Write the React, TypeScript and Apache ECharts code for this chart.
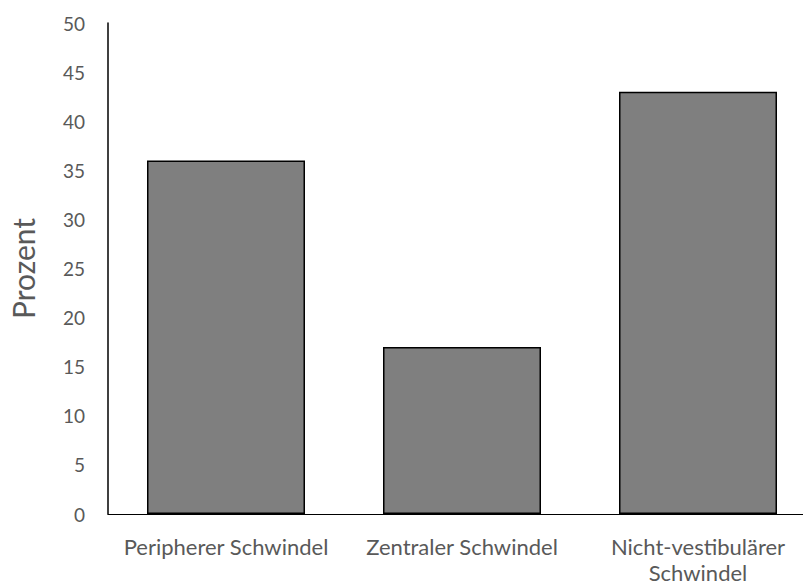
import React, { useEffect, useRef } from "react";
import * as echarts from "echarts";

const categories = ["Peripherer Schwindel", "Zentraler Schwindel", "Nicht-vestibulärer\nSchwindel"];
const values = [36, 17, 43];
const yMin = 0;
const yMax = 50;
const yStep = 5;

export default function App() {
  const ref = useRef<HTMLDivElement>(null);
  useEffect(() => {
    if (!ref.current) return;
    const chart = echarts.init(ref.current, undefined, { renderer: "svg" });
    const font = "Lato, 'Open Sans', sans-serif";
    chart.setOption({
      animation: false,
      backgroundColor: "#ffffff",
      grid: { left: 107, top: 23, right: 0, bottom: 69, containLabel: false },
      xAxis: {
        type: "category",
        data: categories,
        axisLine: { show: true, lineStyle: { color: "#000000", width: 1 } },
        axisTick: { show: false },
        axisLabel: { color: "#595959", fontSize: 22, fontFamily: font, margin: 19, lineHeight: 26, interval: 0 },
      },
      yAxis: {
        type: "value",
        min: yMin,
        max: yMax,
        interval: yStep,
        name: "Prozent",
        nameLocation: "middle",
        nameGap: 70,
        nameTextStyle: { color: "#595959", fontSize: 30, fontFamily: font },
        axisLine: { show: true, lineStyle: { color: "#000000", width: 1.5 } },
        axisTick: { show: false },
        splitLine: { show: false },
        axisLabel: { color: "#595959", fontSize: 19, fontFamily: font, margin: 23 },
      },
      series: [
        {
          type: "bar",
          data: values,
          barWidth: 158,
          itemStyle: { color: "#7f7f7f", borderColor: "#000000", borderWidth: 1.5 },
        },
      ],
    });
    return () => chart.dispose();
  }, []);
  return (
    <div style={{ width: 803, height: 585, position: "absolute", left: 0, top: 0, overflow: "hidden", background: "#fff" }}>
      <div ref={ref} style={{ width: 816, height: 585 }} />
    </div>
  );
}
